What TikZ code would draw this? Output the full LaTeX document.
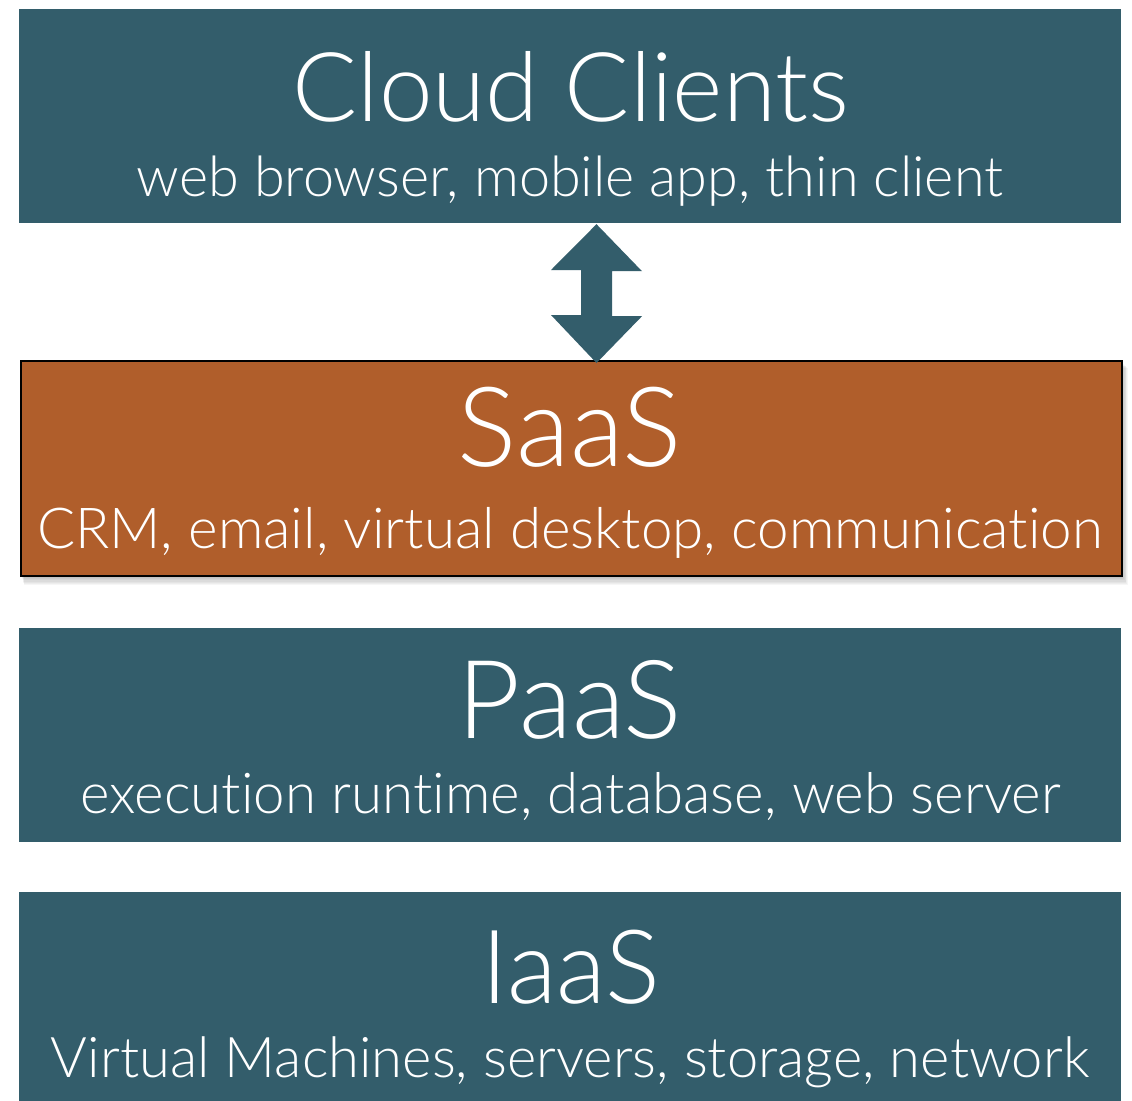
\documentclass[tikz,border=0pt]{standalone}
\usepackage{fontspec}
\setmainfont{Lato Light}[Ligatures=NoCommon]
\usepackage{graphicx}
\definecolor{tealbox}{RGB}{51,93,107}
\definecolor{orangebox}{RGB}{176,94,43}
\newcommand{\fitw}[2]{\resizebox{#1pt}{!}{#2}}
\tikzset{
  layerbox/.style={fill=tealbox, draw=none, inner sep=0pt, minimum width=1102pt},
  saasbox/.style={fill=orangebox, draw=black, line width=2pt, inner sep=0pt},
  label/.style={text=white, anchor=base, inner sep=0pt},
  bigarrow/.style={fill=tealbox, draw=none}
}
\begin{document}
\begin{tikzpicture}[x=1pt,y=-1pt]
\useasboundingbox (0,0) rectangle (1132,1100);
\fill[white] (0,0) rectangle (1132,1100);

% boxes
\node[layerbox, minimum height=213.5pt] (cloud) at (570,115.75) {};
\foreach \k in {1,...,8}{
  \fill[black, opacity=0.035] (21+0.4*\k,361+0.9*\k) rectangle (1121.5+0.8*\k,575.5+1.2*\k);
}
\node[saasbox, minimum width=1100.5pt, minimum height=214.5pt] (saas) at (571.25,468.25) {};
\node[layerbox, minimum height=213.4pt] (paas) at (570,735) {};
\node[layerbox, minimum height=209pt] (iaas) at (570,996.8) {};

% labels
\node[label] (cloudT) at (571,121) {\fitw{556}{Cloud Clients}};
\node[label] (cloudS) at (570,196) {\fitw{866}{web browser, mobile app, thin client}};
\node[label] (saasT) at (570,466) {\fitw{224}{SaaS}};
\node[label] (saasS) at (570,548) {\fitw{1065}{CRM, email, virtual desktop, communication}};
\node[label] (paasT) at (570,738) {\fitw{224}{PaaS}};
\node[label] (paasS) at (570.5,813) {\fitw{980}{execution runtime, database, web server}};
\node[label] (iaasT) at (571,1003) {\fitw{178}{IaaS}};
\node[label] (iaasS) at (570,1077) {\fitw{1038}{Virtual Machines, servers, storage, network}};

% double block arrow between Cloud Clients and SaaS
\coordinate (atop) at ([xshift=26.5pt, yshift=-1.5pt]cloud.south);
\coordinate (abot) at ([xshift=25.25pt, yshift=-3pt]saas.north);
\fill[bigarrow] (atop)
  -- ++(45.5,47) -- ++(-30,0) -- ++(0,45) -- ++(30,0)
  -- (abot)
  -- ++(-45.5,-48) -- ++(30,0) -- ++(0,-45) -- ++(-30,0) -- cycle;
\end{tikzpicture}
\end{document}
